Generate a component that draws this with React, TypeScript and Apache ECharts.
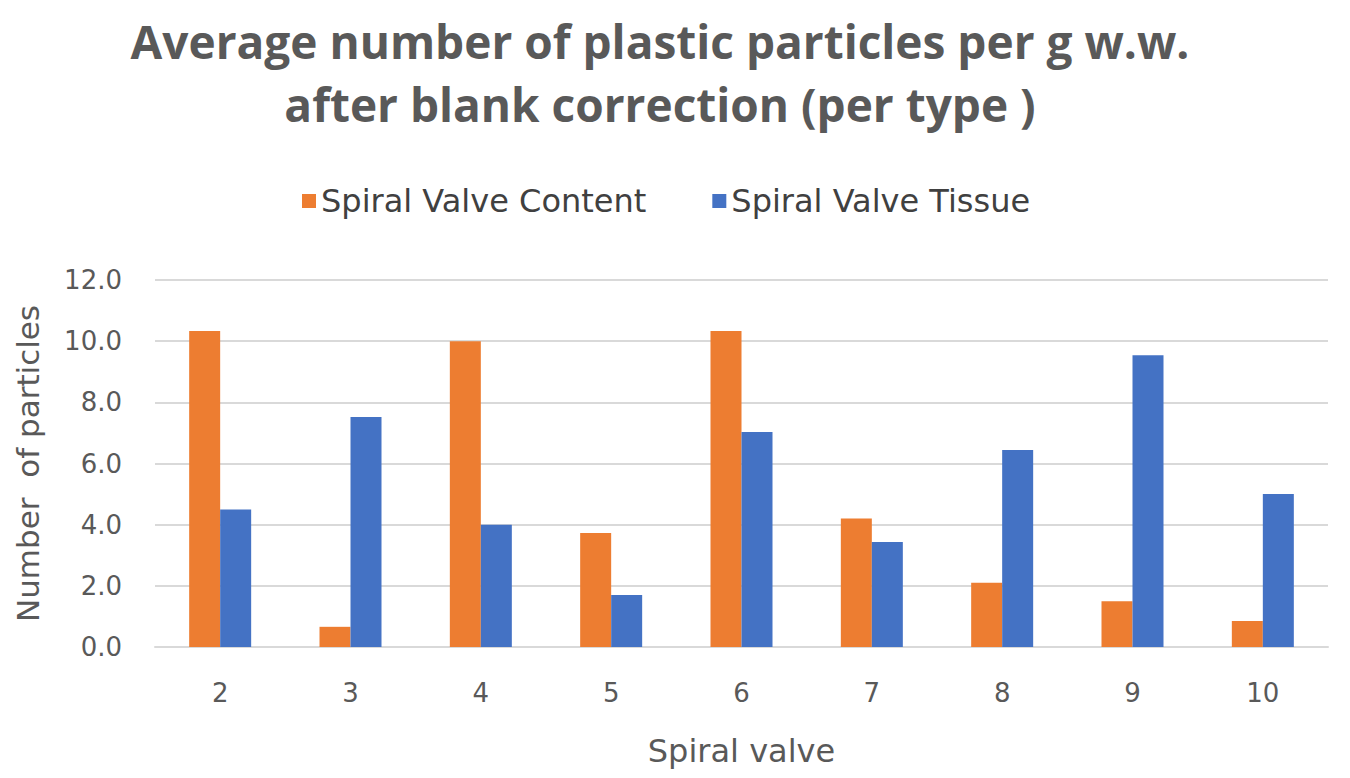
import React, { useEffect, useRef } from "react";
import * as echarts from "echarts";

const categories = ["2", "3", "4", "5", "6", "7", "8", "9", "10"];
const contentValues = [10.33, 0.66, 10.0, 3.73, 10.33, 4.2, 2.1, 1.5, 0.85];
const tissueValues = [4.5, 7.52, 4.0, 1.7, 7.03, 3.43, 6.44, 9.54, 5.0];
const seriesNames = ["Spiral Valve Content", "Spiral Valve Tissue"];

export default function App() {
  const ref = useRef<HTMLDivElement>(null);
  useEffect(() => {
    if (!ref.current) return;
    const chart = echarts.init(ref.current, null, { renderer: "svg" });
    const titleFont = "'Open Sans', 'Noto Sans', sans-serif";
    const font = "'DejaVu Sans', 'Noto Sans', sans-serif";
    chart.setOption({
      animation: false,
      backgroundColor: "#ffffff",
      title: {
        text: "Average number of plastic particles per g w.w.\nafter blank correction (per type )",
        left: 660,
        textAlign: "center",
        top: 9,
        padding: 0,
        textStyle: {
          fontFamily: titleFont,
          fontWeight: "bold",
          fontSize: 46,
          lineHeight: 63,
          color: "#595959",
        },
      },
      legend: {
        top: 180,
        left: 297,
        itemWidth: 14,
        itemHeight: 14,
        itemGap: 66,
        icon: "rect",
        textStyle: { fontFamily: font, fontSize: 32, color: "#404040" },
        data: seriesNames,
      },
      grid: { left: 155, right: 22, top: 280, bottom: 131, containLabel: false },
      xAxis: {
        type: "category",
        data: categories,
        name: "Spiral valve",
        nameLocation: "middle",
        nameGap: 88,
        nameTextStyle: { fontFamily: font, fontSize: 32, color: "#595959" },
        axisTick: { show: false },
        axisLine: { lineStyle: { color: "#d9d9d9", width: 2 } },
        axisLabel: { fontFamily: font, fontSize: 26, color: "#595959", margin: 33 },
      },
      yAxis: {
        type: "value",
        min: 0,
        max: 12,
        interval: 2,
        name: "Number  of particles",
        nameLocation: "middle",
        nameGap: 112,
        nameRotate: 90,
        nameTextStyle: { fontFamily: font, fontSize: 31, color: "#595959" },
        axisLabel: {
          fontFamily: font,
          fontSize: 26,
          color: "#595959",
          margin: 33,
          formatter: (v: number) => v.toFixed(1),
        },
        splitLine: { lineStyle: { color: "#d9d9d9", width: 2 } },
        axisLine: { show: false },
        axisTick: { show: false },
      },
      series: [
        {
          name: seriesNames[0],
          type: "bar",
          data: contentValues,
          barWidth: 31,
          barGap: "0%",
          itemStyle: { color: "#ED7D31" },
        },
        {
          name: seriesNames[1],
          type: "bar",
          data: tissueValues,
          barWidth: 31,
          barGap: "0%",
          itemStyle: { color: "#4472C4" },
        },
      ],
    });
    return () => chart.dispose();
  }, []);
  return (
    <div
      ref={ref}
      style={{ position: "absolute", left: 0, top: 0, width: 1350, height: 778 }}
    />
  );
}
